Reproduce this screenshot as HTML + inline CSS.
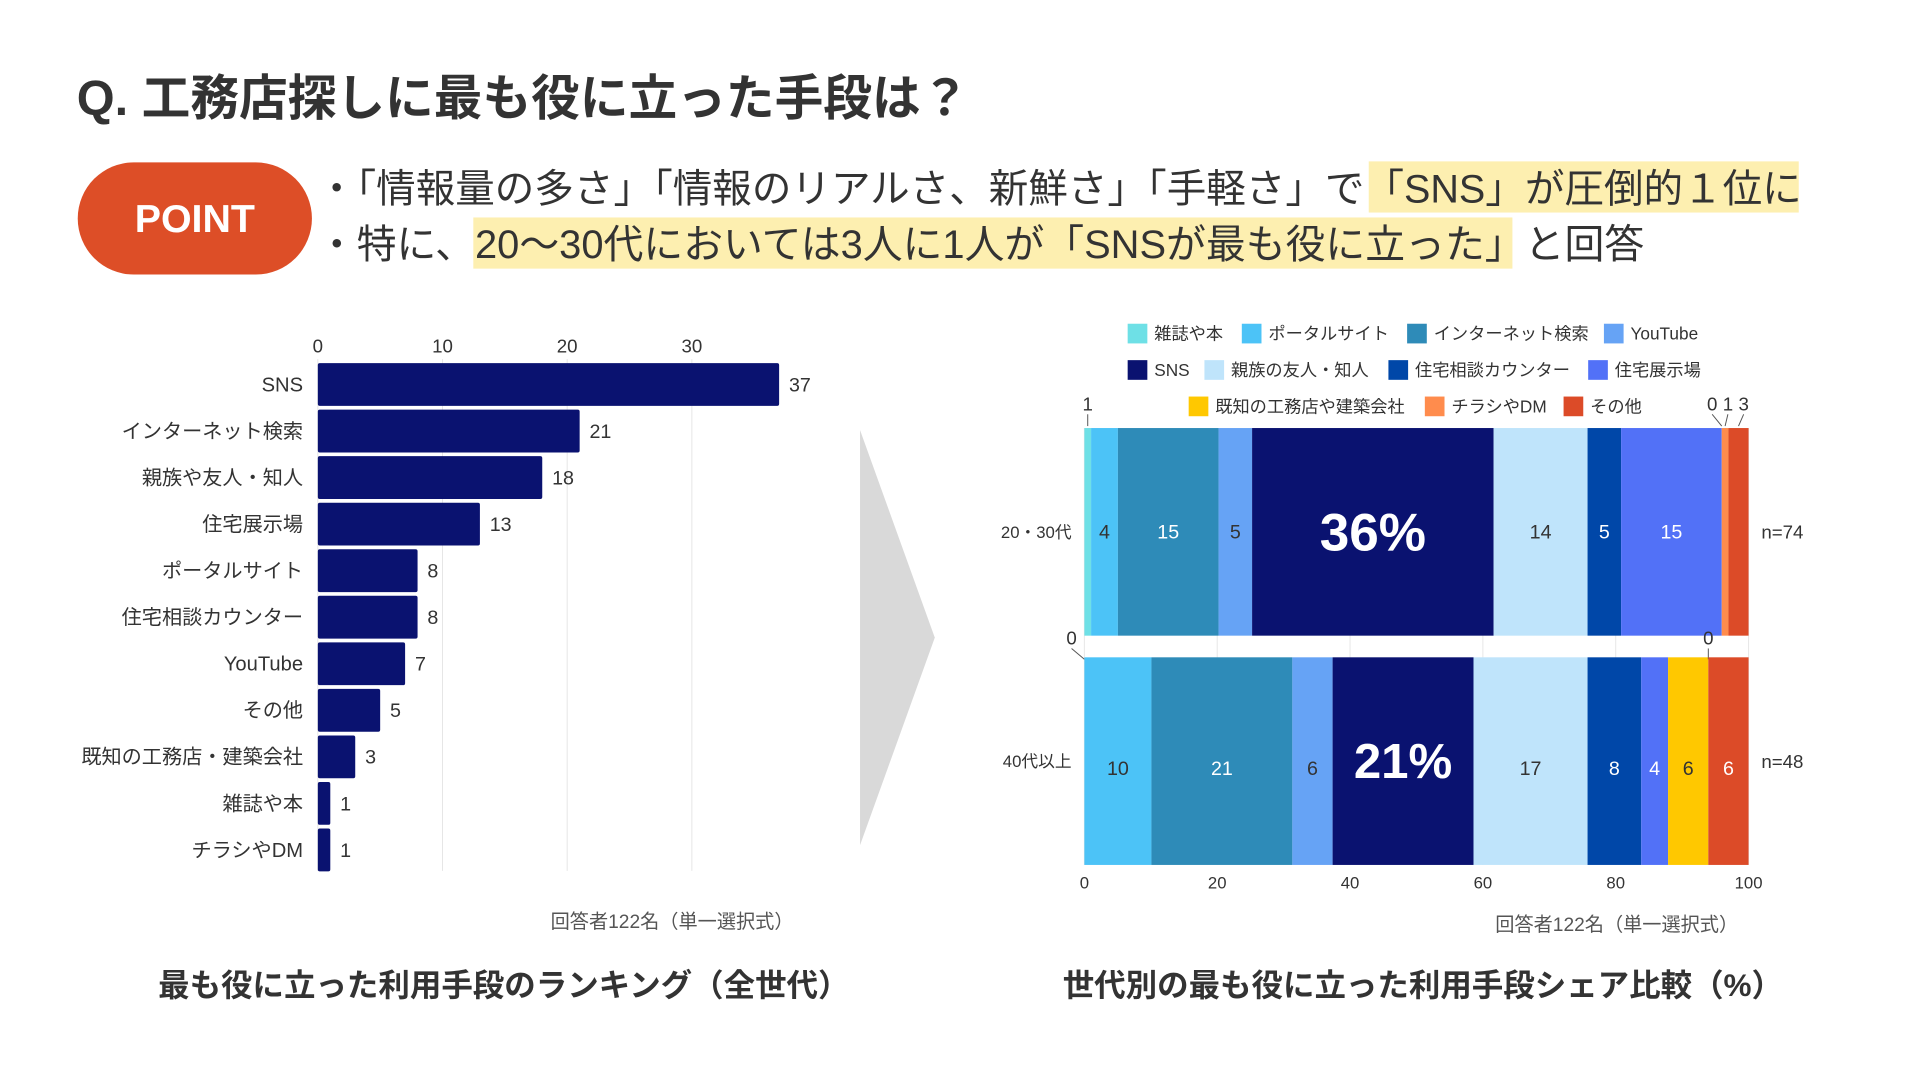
<!DOCTYPE html>
<html><head><meta charset="utf-8">
<style>
html,body{margin:0;padding:0;background:#fff;}
body{width:1920px;height:1080px;overflow:hidden;font-family:"Liberation Sans","Noto Sans CJK JP",sans-serif;}
svg text{font-family:"Liberation Sans","Noto Sans CJK JP",sans-serif;}
</style></head>
<body>
<svg id="main" width="1920" height="1080" viewBox="0 0 1920 1080">
 <g transform="scale(0.984)">
  <text x="78" y="117" font-size="49.5" font-weight="bold" fill="#333">Q. 工務店探しに最も役に立った手段は？</text>
  <rect x="79" y="165" width="238" height="114" rx="57" fill="#dd4e27"/>
  <text x="198" y="236" font-size="40" font-weight="bold" fill="#fff" text-anchor="middle">POINT</text>
  <rect x="1391" y="164" width="437" height="52" fill="#fdefb0"/>
  <rect x="481" y="221" width="1056" height="52" fill="#fdefb0"/>
  <text x="322" y="206" font-size="40.2" fill="#333">・「情報量の多さ」「情報のリアルさ、新鮮さ」「手軽さ」で「SNS」が圧倒的１位に</text>
  <text x="322" y="262" font-size="40.5" fill="#333">・特に、20～30代においては3人に1人が「SNSが最も役に立った」と回答</text>
  <polygon points="874,437 950,648 874,859" fill="#d9d9d9"/>
  <g id="left"></g>
  <g id="right"></g>
  <text x="683" y="943" font-size="19.5" fill="#555" text-anchor="middle">回答者122名（単一選択式）</text>
  <text x="512" y="1012" font-size="32" font-weight="bold" fill="#333" text-anchor="middle">最も役に立った利用手段のランキング（全世代）</text>
  <text x="1643" y="946" font-size="19.5" fill="#555" text-anchor="middle">回答者122名（単一選択式）</text>
  <text x="1446" y="1012" font-size="32" font-weight="bold" fill="#333" text-anchor="middle">世代別の最も役に立った利用手段シェア比較（%）</text>
 </g>
</svg>
<script>
const rankCats = ["SNS","インターネット検索","親族や友人・知人","住宅展示場","ポータルサイト","住宅相談カウンター","YouTube","その他","既知の工務店・建築会社","雑誌や本","チラシやDM"];
const rankVals = [37,21,18,13,8,8,7,5,3,1,1];
const rankTicks = [0,10,20,30];

const shareCats = ["雑誌や本","ポータルサイト","インターネット検索","YouTube","SNS","親族の友人・知人","住宅相談カウンター","住宅展示場","既知の工務店や建築会社","チラシやDM","その他"];
const shareColors = ["#6ee0e6","#4cc3f7","#2e8bb8","#66a3f5","#0a1270","#bfe4fb","#0047a8","#5271f7","#ffc800","#ff8c4d","#dc4b28"];
const groups = ["20・30代","40代以上"];
const groupN = ["n=74","n=48"];
const share2030 = [1,4,15,5,36,14,5,15,0,1,3];
const share40 = [0,10,21,6,21,17,8,4,6,0,6];
const shareTicks = [0,20,40,60,80,100];

const NS="http://www.w3.org/2000/svg";
function mk(parent,tag,attrs,txt){const e=document.createElementNS(NS,tag);for(const k in attrs)e.setAttribute(k,attrs[k]);if(txt!==undefined)e.textContent=txt;parent.appendChild(e);return e;}

const L=document.getElementById('left');
const x0=323, unit=12.67, top0=369, step=47.3, bh=43.5, bottom=885;
const xl=v=>x0+v*unit;
rankTicks.forEach(t=>{
  const g=mk(L,'line',{x1:xl(t),x2:xl(t),y1:365,y2:bottom,stroke:'#e6e6e6','stroke-width':1});
  
  
  const tl=mk(L,'text',{x:xl(t),y:358,'font-size':19,fill:'#333','text-anchor':'middle'},t);
  
  
});
rankCats.forEach((c,i)=>{
  const y=top0+i*step;
  const r=mk(L,'rect',{x:x0,y:y,width:xl(rankVals[i])-x0,height:bh,fill:'#0a1270',rx:2});
  
  
  const lb=mk(L,'text',{x:308,y:y+bh/2+7,'font-size':20.5,fill:'#333','text-anchor':'end'},c);
  
  
  const vl=mk(L,'text',{x:xl(rankVals[i])+10,y:y+bh/2+7,'font-size':20,fill:'#333'},rankVals[i]);
  
  
});

const R=document.getElementById('right');
const rx0=1102, rx1=1777, sx=p=>rx0+(rx1-rx0)*p/100;
shareTicks.forEach(t=>{
  const g=mk(R,'line',{x1:sx(t),x2:sx(t),y1:435,y2:879,stroke:'#e6e6e6','stroke-width':1});
  
  
  const tl=mk(R,'text',{x:sx(t),y:903,'font-size':17,fill:'#333','text-anchor':'middle'},t);
  
  
});
const legRows=[[0,1,2,3],[4,5,6,7],[8,9,10]];
const legX=[[1146,1262,1430,1630],[1146,1224,1411,1614],[1208,1448,1589]];
const legY=[339,376,413];
legRows.forEach((row,ri)=>row.forEach((ci,j)=>{
  const sw=mk(R,'rect',{x:legX[ri][j],y:legY[ri]-10,width:20,height:20,fill:shareColors[ci]});
  
  
  const lt=mk(R,'text',{x:legX[ri][j]+27,y:legY[ri]+6,'font-size':17.5,fill:'#333'},shareCats[ci]);
  
  
}));
const series=[share2030,share40];
const barY=[435,668], barH=211;
series.forEach((vals,gi)=>{
  const sum=vals.reduce((a,b)=>a+b,0);
  let acc=0;
  const y=barY[gi];
  const gl=mk(R,'text',{x:1089,y:y+barH/2+6,'font-size':17,fill:'#333','text-anchor':'end'},groups[gi]);
  
  
  const nl=mk(R,'text',{x:1790,y:y+barH/2+7,'font-size':19,fill:'#333'},groupN[gi]);
  
  
  vals.forEach((v,i)=>{
    const a=sx(acc/sum*100), b=sx((acc+v)/sum*100);
    acc+=v;
    if(v>0){
      const r=mk(R,'rect',{x:a,y:y,width:b-a,height:barH,fill:shareColors[i]});
      
      
    }
    const cx=(a+b)/2;
    const dark=[2,4,6,7,10].includes(i);
    if(i===4){
      const t=mk(R,'text',{x:cx,y:y+barH/2+(gi===0?19:17),'font-size':gi===0?54:50,'font-weight':'bold',fill:'#fff','text-anchor':'middle'},v+'%');
      
      
    } else if(v>=4){
      const t=mk(R,'text',{x:cx,y:y+barH/2+(gi===0?7:14),'font-size':20,fill:dark?'#fff':'#333','text-anchor':'middle'},v);
      
      
    } else {
      let lx=cx, ly;
      if(gi===0){ ly=417; if(i>=8){lx=1740+(i-8)*16;} }
      else { ly=655; lx=(i===0)?cx-13:cx; }
      const ln=mk(R,'line',{x1:lx,y1:ly+4,x2:cx,y2:y+(gi===0?-2:2),stroke:'#555','stroke-width':1});
      
      
      const t=mk(R,'text',{x:lx,y:ly,'font-size':19,fill:'#333','text-anchor':'middle'},v);
      
      
    }
  });
});
</script>
</body></html>
